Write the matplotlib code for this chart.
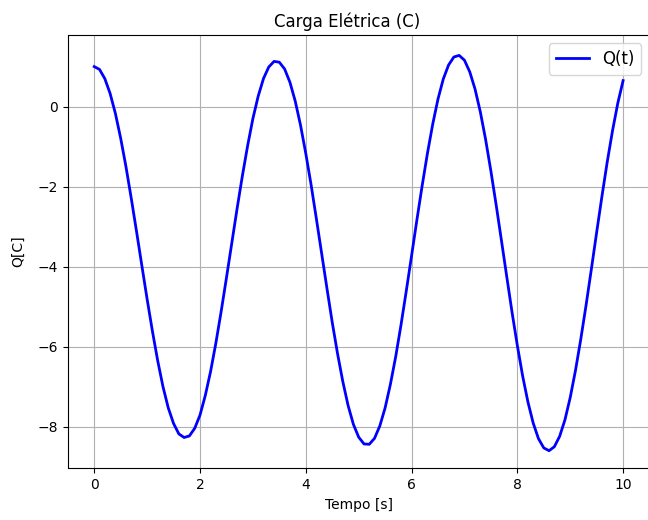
import numpy as np
import matplotlib
matplotlib.use("Agg")
import matplotlib.pyplot as plt

# tempo de 0 a 10 s, passo de 0.1 s
t = np.linspace(0, 10, 101)

# carga Q(t) em coulombs
Q = [1.00, 0.93, 0.70, 0.33, -0.17, -0.79, -1.50, -2.29, -3.12, -3.97,
     -4.81, -5.61, -6.35, -7.00, -7.53, -7.92, -8.18, -8.27, -8.23, -8.04,
     -7.71, -7.22, -6.62, -5.91, -5.12, -4.28, -3.42, -2.56, -1.74, -0.98,
     -0.30, 0.26, 0.70, 0.99, 1.13, 1.11, 0.94, 0.61, 0.14, -0.46,
     -1.17, -1.95, -2.80, -3.67, -4.54, -5.39, -6.17, -6.87, -7.47, -7.94,
     -8.26, -8.43, -8.44, -8.29, -7.98, -7.53, -6.94, -6.25, -5.46, -4.61,
     -3.73, -2.84, -1.98, -1.17, -0.44, 0.19, 0.69, 1.04, 1.24, 1.28,
     1.16, 0.87, 0.44, -0.13, -0.82, -1.61, -2.46, -3.35, -4.25, -5.14,
     -5.97, -6.73, -7.38, -7.91, -8.30, -8.53, -8.60, -8.50, -8.24, -7.83,
     -7.27, -6.59, -5.81, -4.96, -4.06, -3.14, -2.24, -1.38, -0.60, 0.09,
     0.65]

fig = plt.figure(figsize=(6.48, 5.2), dpi=100)
ax = fig.add_axes([0.1046, 0.0994, 0.8978, 0.8333])

ax.plot(t, Q, color='blue', linewidth=2, label='Q(t)')
ax.set_xlim(-0.5, 10.5)
ax.set_ylim(-9.04, 1.79)
ax.set_title('Carga Elétrica (C)', fontsize=12, x=0.48)
ax.set_xlabel('Tempo [s]')
ax.set_ylabel('Q[C]', labelpad=9)
ax.grid(True)
ax.legend(loc='upper right', fontsize=12)

fig.savefig('out.png', dpi=100)
